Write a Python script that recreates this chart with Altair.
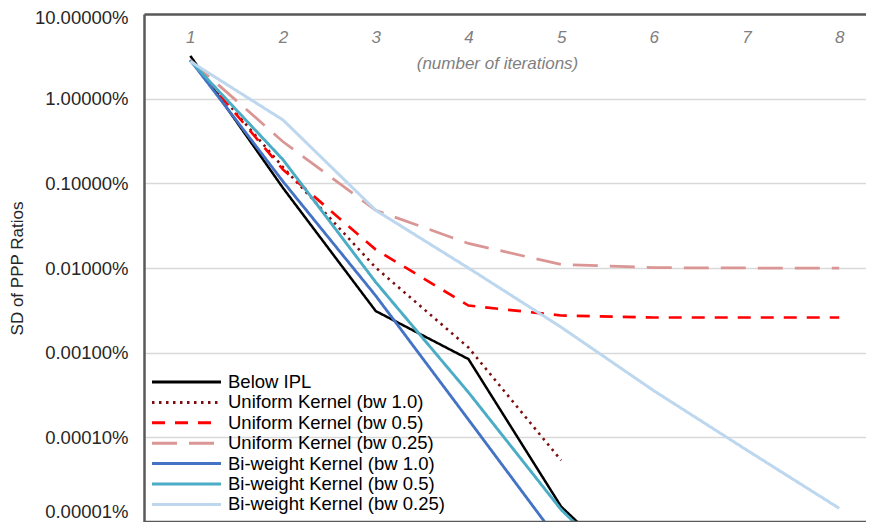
import altair as alt
import pandas as pd

# ---- data (values in percent) ----
iterations = [1, 2, 3, 4, 5, 6, 7, 8]
series_names = [
    "Below IPL",
    "Uniform Kernel (bw 1.0)",
    "Uniform Kernel (bw 0.5)",
    "Uniform Kernel (bw 0.25)",
    "Bi-weight Kernel (bw 1.0)",
    "Bi-weight Kernel (bw 0.5)",
    "Bi-weight Kernel (bw 0.25)",
]
below_ipl = [3.2, 0.088, 0.0031, 0.00084, 0.0000152, 0.0000014]
uniform_10 = [2.85, 0.155, 0.0101, 0.00115, 0.0000535]
uniform_05 = [2.85, 0.145, 0.0165, 0.0036, 0.00275, 0.0026, 0.0026, 0.0026]
uniform_025 = [2.85, 0.31, 0.048, 0.0195, 0.011, 0.0101, 0.0100, 0.0100]
biweight_10 = [2.85, 0.105, 0.0047, 0.000162, 0.0000055, 0.0000002]
biweight_05 = [2.8, 0.19, 0.0068, 0.00034, 0.000014, 0.0000012]
biweight_025 = [2.75, 0.56, 0.048, 0.0100, 0.0020, 0.000355, 0.000071, 0.0000145]

all_series = [below_ipl, uniform_10, uniform_05, uniform_025,
              biweight_10, biweight_05, biweight_025]

colors = ["#000000", "#7B0F0F", "#FF0000", "#DA9694",
          "#4472C4", "#4BACC6", "#BDD7EE"]
dashes = [[1, 0], [2.5, 4.5], [13, 10], [25, 12], [1, 0], [1, 0], [1, 0]]
widths = [2.5, 3, 3.5, 3.5, 2.5, 2.5, 3]

y_ticks = [1e-7, 1e-6, 1e-5, 1e-4, 1e-3, 1e-2, 1e-1]

rows = []
for name, vals in zip(series_names, all_series):
    for it, v in zip(iterations, vals):
        rows.append({"series": name, "iter": it, "sd": v / 100.0})
df = pd.DataFrame(rows)
legend_df = pd.DataFrame({"series": series_names, "rank": list(range(len(series_names)))})

W, H = 722, 508
FONT = "Liberation Sans"

color_scale = alt.Scale(domain=series_names, range=colors)
dash_scale = alt.Scale(domain=series_names, range=dashes)
width_scale = alt.Scale(domain=series_names, range=widths)

lines = alt.Chart(df).mark_line(clip=True).encode(
    x=alt.X("iter:Q",
            scale=alt.Scale(domain=[0.5, 8.289], nice=False, zero=False),
            axis=alt.Axis(
                orient="top", values=iterations, format="d",
                labelFont=FONT, labelFontSize=17, labelFontStyle="italic",
                labelColor="#7F7F7F", labelPadding=-28, labelBaseline="alphabetic",
                ticks=False, tickSize=0, grid=False,
                domain=True, domainColor="#595959", domainWidth=2.5,
                title="(number of iterations)", titleFont=FONT, titleFontSize=17,
                titleFontStyle="italic", titleFontWeight="normal",
                titleColor="#7F7F7F", titleX=353, titleY=54,
                titleBaseline="alphabetic", titleAlign="center",
            )),
    y=alt.Y("sd:Q",
            scale=alt.Scale(type="log", domain=[1e-7, 1e-1], nice=False),
            axis=alt.Axis(
                values=y_ticks, format=".5%",
                labelFont=FONT, labelFontSize=18.5, labelColor="#262626",
                labelPadding=16, ticks=False, grid=True,
                labelOffset={"condition": [
                    {"test": "datum.value < 2e-7", "value": -11},
                    {"test": "datum.value > 5e-2", "value": 3}],
                    "value": 0},
                gridColor="#D9D9D9", gridWidth=1.5,
                domain=True, domainColor="#595959", domainWidth=2.5,
                title="SD of PPP Ratios", titleFont=FONT, titleFontSize=17,
                titleFontWeight="normal", titleColor="#262626",
                titleX=-127, titleY=254, titleAngle=270,
                titleAlign="center", titleBaseline="middle",
            )),
    color=alt.Color("series:N", scale=color_scale, legend=None),
    strokeDash=alt.StrokeDash("series:N", scale=dash_scale, legend=None),
    strokeWidth=alt.StrokeWidth("series:N", scale=width_scale, legend=None),
    order=alt.Order("iter:Q"),
)

# legend drawn inside the plot (lower-left), rows through a point scale
legend_y = alt.Y("series:N", sort=series_names, axis=None,
                 scale=alt.Scale(type="point", range=[368, 490.4], padding=0))

legend_lines = alt.Chart(legend_df).mark_rule().encode(
    x=alt.value(8), x2=alt.value(77),
    y=legend_y,
    color=alt.Color("series:N", scale=color_scale, legend=None),
    strokeDash=alt.StrokeDash("series:N", scale=dash_scale, legend=None),
    strokeWidth=alt.value(3),
)

legend_text = alt.Chart(legend_df).mark_text(
    align="left", baseline="middle", font=FONT, fontSize=18.5, color="#000000"
).encode(
    x=alt.value(84),
    y=legend_y,
    text="series:N",
)

legend_layer = alt.layer(legend_lines, legend_text)

bottom_border = alt.Chart(pd.DataFrame({"a": [0]})).mark_rule(
    color="#595959", strokeWidth=2.5
).encode(x=alt.value(0), x2=alt.value(W), y=alt.value(H))

chart = alt.layer(lines, bottom_border, legend_layer).resolve_scale(
    y="independent"
).properties(
    width=W, height=H,
    autosize=alt.AutoSizeParams(type="none"),
    padding={"left": 136, "top": 6, "right": 0, "bottom": 0},
).configure_view(stroke=None).configure(font=FONT)

chart.save("out.html", embed_options={"renderer": "svg", "actions": False})
